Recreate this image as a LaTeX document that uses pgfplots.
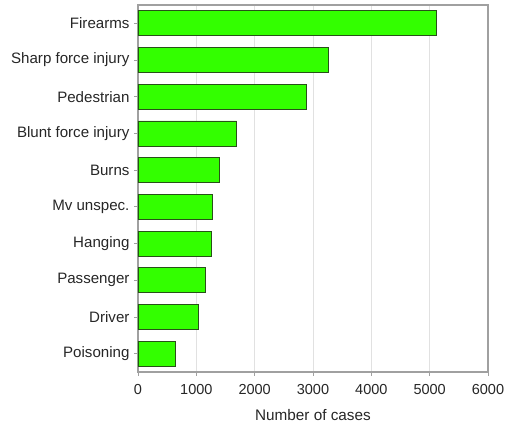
\documentclass[border=0pt]{standalone}
\usepackage{pgfplots}
\pgfplotsset{compat=1.18}
\usepackage{fontspec}
\setmainfont{Liberation Sans}
\definecolor{barfill}{RGB}{51,255,0}
\definecolor{bardraw}{RGB}{40,80,25}
\definecolor{axgray}{RGB}{160,160,160}
\definecolor{gridgray}{RGB}{225,225,225}
\begin{document}
\begin{tikzpicture}[x=1pt,y=1pt]
\begin{axis}[
  at={(138pt,51pt)}, anchor=south west,
  scale only axis, width=350pt, height=367pt,
  xbar, bar width=25pt,
  xmin=0, xmax=6000, ymin=-0.5, ymax=9.5,
  xtick={0,1000,...,6000},
  ytick={0,...,9},
  yticklabels={Poisoning,Driver,Passenger,Hanging,Mv unspec.,Burns,Blunt force injury,Pedestrian,Sharp force injury,Firearms},
  xmajorgrids, major grid style={gridgray, line width=0.8pt},
  axis line style={axgray, line width=1.5pt},
  tick style={axgray, line width=0.8pt},
  tick align=outside, major tick length=4pt,
  xtick pos=bottom, ytick pos=left,
  scaled x ticks=false,
  x tick label style={/pgf/number format/1000 sep={}, font=\fontsize{14.5}{16}\selectfont, text=black!85, yshift=-5pt},
  /pgf/number format/assume math mode=true,
  y tick label style={font=\fontsize{15.1}{18}\selectfont, text=black!85, xshift=-1pt},
  xlabel={Number of cases},
  xlabel style={font=\fontsize{15.3}{18}\selectfont, text=black!85, yshift=-8pt},
]
\addplot[fill=barfill, draw=bardraw, line width=0.8pt] coordinates {
 (634,0) (1034,1) (1160,2) (1263,3) (1280,4) (1389,5) (1692,6) (2880,7) (3260,8) (5120,9)
};
\end{axis}
\pgfresetboundingbox
\path (0,0) rectangle (507,423);
\end{tikzpicture}
\end{document}
